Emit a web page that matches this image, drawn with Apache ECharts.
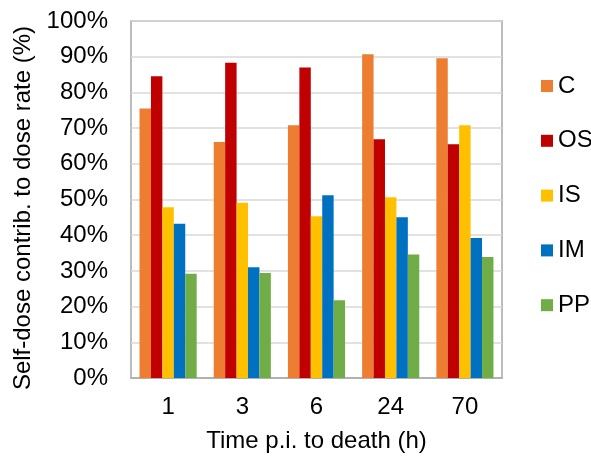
<!DOCTYPE html>
<html>
<head>
<meta charset="utf-8">
<script src="https://cdn.jsdelivr.net/npm/echarts@6/dist/echarts.min.js"></script>
<style>html,body{margin:0;padding:0;background:#fff}#c{width:591px;height:461px}</style>
</head>
<body>
<div id="c"></div>
<script>
const categories = ['1', '3', '6', '24', '70'];
const seriesNames = ['C', 'OS', 'IS', 'IM', 'PP'];
const valuesC  = [75.5, 66.1, 70.8, 90.7, 89.6];
const valuesOS = [84.5, 88.3, 87.0, 66.9, 65.5];
const valuesIS = [47.8, 49.1, 45.3, 50.6, 70.8];
const valuesIM = [43.2, 31.0, 51.2, 45.0, 39.2];
const valuesPP = [29.2, 29.4, 21.8, 34.6, 33.9];
const yTicks = [0, 10, 20, 30, 40, 50, 60, 70, 80, 90, 100];
const colors = ['#ED7D31', '#C00000', '#FFC000', '#0070C0', '#70AD47'];
const allValues = [valuesC, valuesOS, valuesIS, valuesIM, valuesPP];

const font = '"Liberation Sans", Arial, sans-serif';
const chart = echarts.init(document.getElementById('c'), null, {renderer: 'canvas'});
chart.setOption({
  animation: false,
  backgroundColor: '#fff',
  color: colors,
  grid: {left: 131, right: 89, top: 21, bottom: 83, show: true, borderColor: '#a6a6a6', borderWidth: 1.5, backgroundColor: 'transparent'},
  legend: {
    orient: 'vertical', left: 536, top: 69,
    itemWidth: 12, itemHeight: 12, itemGap: 30.8,
    icon: 'rect',
    textStyle: {fontFamily: font, fontSize: 24, color: '#000', lineHeight: 24},
    data: seriesNames
  },
  xAxis: {
    type: 'category', data: categories,
    axisLine: {show: true, lineStyle: {color: '#a6a6a6', width: 1.5}},
    axisTick: {show: false},
    axisLabel: {fontFamily: font, fontSize: 24, color: '#000', margin: 17},
    name: 'Time p.i. to death (h)', nameLocation: 'middle', nameGap: 51,
    nameTextStyle: {fontFamily: font, fontSize: 24, color: '#000'}
  },
  yAxis: {
    type: 'value', min: yTicks[0], max: yTicks[yTicks.length - 1], interval: 10,
    axisLine: {show: false},
    axisTick: {show: false},
    splitLine: {lineStyle: {color: '#d9d9d9', width: 1.5}},
    axisLabel: {fontFamily: font, fontSize: 24, color: '#000', margin: 23, formatter: '{value}%'},
    name: 'Self-dose contrib. to dose rate (%)', nameLocation: 'middle', nameGap: 96,
    nameTextStyle: {fontFamily: font, fontSize: 24, color: '#000', padding: [0, 17, 0, 0]}
  },
  series: seriesNames.map((n, i) => ({
    name: n, type: 'bar', data: allValues[i],
    barGap: '0%', barCategoryGap: '23%',
    itemStyle: {color: colors[i]}
  }))
});
</script>
</body>
</html>
